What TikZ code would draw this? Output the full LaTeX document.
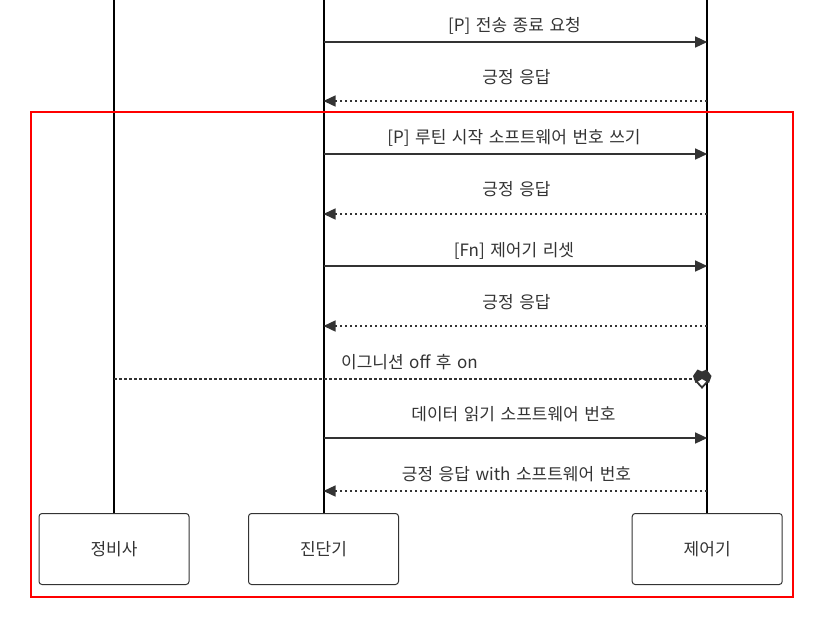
\documentclass[tikz,border=0pt]{standalone}
\usepackage{fontspec}
\setmainfont[WordSpace=1.45]{Noto Sans CJK KR}
\usetikzlibrary{arrows.meta}
\definecolor{ink}{HTML}{333333}
\tikzset{
  x=1pt,y=-1pt,
  actorbox/.style={draw=ink,line width=1pt,rounded corners=3pt,minimum width=150pt,minimum height=71pt,inner sep=0pt,font=\fontsize{17}{20}\selectfont,text=ink},
  life/.style={draw=black,line width=2pt},
  msg/.style={draw=ink,line width=1.3pt,-{Triangle[length=12pt,width=11pt,fill=ink]}},
  reply/.style={draw=ink,line width=1.4pt,dash pattern=on 2.5pt off 2.5pt,-{Triangle[length=12pt,width=11pt,fill=ink]}},
  lbl/.style={font=\fontsize{17}{20}\selectfont,text=ink,inner sep=0pt,anchor=center},
}
\begin{document}
\begin{tikzpicture}
\useasboundingbox (0,0) rectangle (827,633);
\node[actorbox] (A) at (114,549) {정비사};
\node[actorbox] (B) at (323.5,549) {진단기};
\node[actorbox] (C) at (707.2,549) {제어기};
\coordinate (At) at (114,0);
\coordinate (Bt) at (323.5,0);
\coordinate (Ct) at (707.2,0);
\draw[life] (At) -- (A.north);
\draw[life] (Bt) -- (B.north);
\draw[life] (Ct) -- (C.north);
\foreach \n/\y in {a/42,b/101,c/154,d/214,e/266,f/326,g/379,h/438,i/491}{
  \coordinate (A\n) at (114,\y);
  \coordinate (B\n) at (323.5,\y);
  \coordinate (C\n) at (707.2,\y);
}
\draw[msg] (Ba) -- (Ca);
\draw[reply] (Cb) -- (Bb);
\draw[msg] (Bc) -- (Cc);
\draw[reply] (Cd) -- (Bd);
\draw[msg] (Be) -- (Ce);
\draw[reply] (Cf) -- (Bf);
\draw[msg] (Bh) -- (Ch);
\draw[reply] (Ci) -- (Bi);
\draw[draw=ink,line width=1.4pt,dash pattern=on 2.5pt off 2.5pt] (Ag) -- ([xshift=-12pt]Cg);
\fill[ink] (693,376) -- (697.5,369.5) -- (702,371.5) -- (706.5,369.5) -- (711.5,376) -- (709,383) -- (702,379) -- (695.5,383) -- cycle;
\draw[ink,line width=1.8pt] (696,381) -- (702,387.5) -- (708,381);
\node[lbl] (t1) at (514.5,25.5) {[P] 전송 종료 요청};
\node[lbl] (t2) at (516.5,77.5) {긍정 응답};
\node[lbl] (t3) at (514,137.5) {[P] 루틴 시작 소프트웨어 번호 쓰기};
\node[lbl] (t4) at (516.5,189.5) {긍정 응답};
\node[lbl] (t5) at (514,250.5) {[Fn] 제어기 리셋};
\node[lbl] (t6) at (516.5,302.5) {긍정 응답};
\node[lbl] (t7) at (409.5,362.5) {이그니션 off 후 on};
\node[lbl] (t8) at (513.5,414.5) {데이터 읽기 소프트웨어 번호};
\node[lbl] (t9) at (516.5,474.5) {긍정 응답 with 소프트웨어 번호};
\node[draw=red,line width=1.5pt,minimum width=762pt,minimum height=485pt,inner sep=0pt] (frame) at (412,354.5) {};
\end{tikzpicture}
\end{document}
